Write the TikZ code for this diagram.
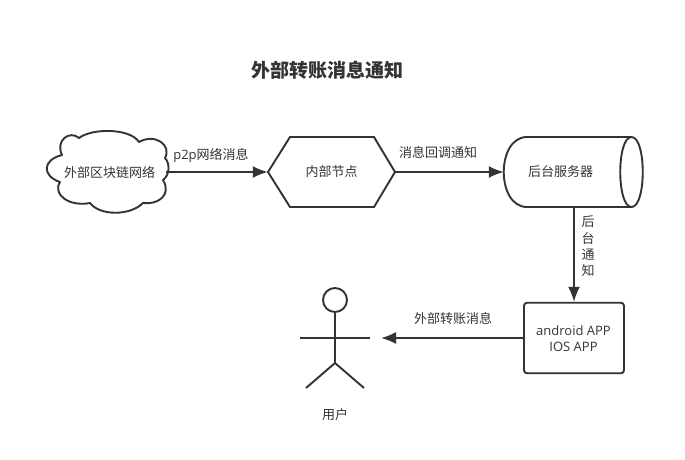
\documentclass[tikz,border=0pt]{standalone}
\usepackage{fontspec}
\setmainfont{Noto Sans CJK SC}
\newfontfamily\latinfont{Open Sans}
\usetikzlibrary{arrows.meta}
\definecolor{ink}{HTML}{333333}
\tikzset{
 ln/.style={draw=ink,line width=1.9pt,line join=round},
 lbl/.style={text=ink,font=\fontsize{13}{16.3}\selectfont,inner sep=0pt,align=center},
 anchorbox/.style={inner sep=0pt,text=ink,font=\fontsize{13}{16}\selectfont,align=center},
 link/.style={draw=ink,line width=1.9pt,-{Latex[length=15pt,width=12pt]}},
}
\begin{document}
\begin{tikzpicture}[x=1pt,y=-1pt]
\useasboundingbox (0,0) rectangle (685,459);
% title
\node[text=ink,font=\fontsize{19}{21}\selectfont\bfseries,inner sep=0pt] (title) at (327,70) {外部转账消息通知};
% cloud
\draw[ln] (60,182)
 .. controls (42,176) and (42,160) .. (62,155)
 .. controls (55,140) and (70,130) .. (79,138)
 .. controls (92,128) and (130,128) .. (139,142)
 .. controls (155,133) and (172,145) .. (165,158)
 .. controls (170,163) and (170,175) .. (163,180)
 .. controls (172,195) and (158,205) .. (143,203)
 .. controls (130,216) and (100,216) .. (90,203)
 .. controls (70,207) and (52,195) .. (60,182) -- cycle;
\node[anchorbox,minimum width=113pt,minimum height=79pt] (cloud) at (109.5,172) {外部区块链网络};
% hexagon
\draw[ln] (268,172) -- (290,137) -- (374,137) -- (395,172) -- (374,207) -- (290,207) -- cycle;
\node[anchorbox,minimum width=127pt,minimum height=70pt] (hex) at (331.5,172) {内部节点};
% cylinder
\draw[ln] (631.5,137) -- (527,137) .. controls (496,137) and (496,207) .. (527,207) -- (631.5,207);
\draw[ln] (631.5,137) .. controls (616.5,137) and (616.5,207) .. (631.5,207) .. controls (646.5,207) and (646.5,137) .. (631.5,137) -- cycle;
\node[anchorbox,minimum width=139pt,minimum height=70pt] (cyl) at (573.5,172) {\hspace*{-26pt}后台服务器};
% app box
\node[ln,rounded corners=3pt,minimum width=100pt,minimum height=70.5pt,anchorbox,draw=ink,line width=1.9pt] (app) at (574,338) {};
\node[anchorbox] (apptext) at (573.5,339) {\latinfont android APP\\\latinfont IOS APP};
% actor
\coordinate (actor) at (370,338);
\coordinate (neck) at (335,312.5);
\coordinate (hip) at (335,363);
\draw[ln] (335,300) circle (12pt);
\draw[ln] (neck) -- (hip) -- (306,388);
\draw[ln] (hip) -- (364,388);
\draw[ln] (300,338) -- (actor);
\node[anchorbox] (user) at (335,415) {用户};
% connectors
\draw[link] (cloud.east) -- (hex.west);
\draw[link] (hex.east) -- (cyl.west);
\draw[link] (574,207) -- (app.north);
\draw[link] (app.west) -- (381,338);
% labels
\node[lbl] (l1) at (211,156) {{\latinfont p2p}网络消息};
\node[lbl] (l2) at (438,152) {消息回调通知};
\node[lbl] (l3) at (588,246.5) {后\\台\\通\\知};
\node[lbl] (l4) at (453,319) {外部转账消息};
\end{tikzpicture}
\end{document}
